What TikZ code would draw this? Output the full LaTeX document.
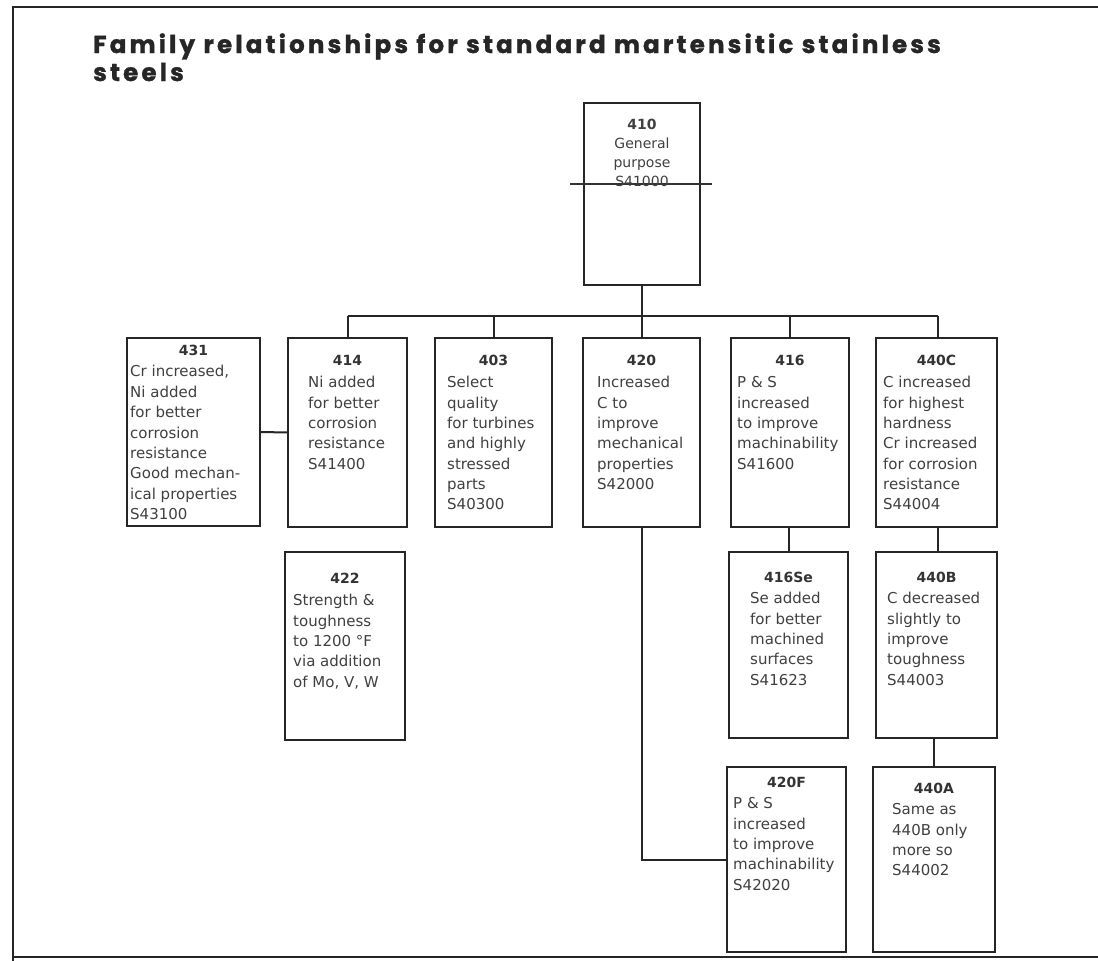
\documentclass[tikz,border=0pt]{standalone}
\usepackage{fontspec}
\newfontfamily\titlefont{Poppins}[LetterSpace=13, BoldFeatures={FakeBold=1.4}]
\newfontfamily\boxfont{DejaVu Sans}
\tikzset{
  x=1pt, y=-1pt,
  frame/.style={line width=1.6pt, draw=black!85},
  box/.style={draw=black!85, line width=1.4pt, inner sep=0pt, fill=white},
  conn/.style={line width=2pt, draw=black!85},
  num/.style={font=\boxfont\bfseries\fontsize{14}{19}\selectfont, text=black!80, anchor=base, inner sep=0pt},
  body/.style={font=\boxfont\fontsize{15}{20.3}\selectfont, text=black!75, align=left, anchor=north west, inner sep=0pt},
  title/.style={font=\titlefont\bfseries\fontsize{24.5}{28}\selectfont, text=black!85, align=left, anchor=base west, inner sep=0pt}
}
\begin{document}
\begin{tikzpicture}
\useasboundingbox[fill=white] (0,0) rectangle (1098,961);
% frame
\coordinate (fTL) at (13,7);
\coordinate (fTR) at (1098,7);
\coordinate (fBL) at (13,961);
\coordinate (fB1) at (13,957);
\coordinate (fB2) at (1098,957);
\draw[frame] (fTR) -- (fTL) -- (fBL);
\draw[frame, line width=1.2pt] (fB1) -- (fB2);
% title (base anchor = baseline of last line)
\node[title] (ttl) at (93,81) {Family relationships for standard martensitic stainless\\steels};

% boxes
\node[box, minimum width=116, minimum height=182] (n410) at (642,194) {};
\node[box, minimum width=133, minimum height=188] (n431) at (193.5,432) {};
\node[box, minimum width=119, minimum height=189] (n414) at (347.5,432.5) {};
\node[box, minimum width=117, minimum height=189] (n403) at (493.5,432.5) {};
\node[box, minimum width=117, minimum height=189] (n420) at (641.5,432.5) {};
\node[box, minimum width=118, minimum height=189] (n416) at (790,432.5) {};
\node[box, minimum width=121, minimum height=189] (n440C) at (936.5,432.5) {};
\node[box, minimum width=120, minimum height=188] (n422) at (345,646) {};
\node[box, minimum width=119, minimum height=186] (n416Se) at (788.5,645) {};
\node[box, minimum width=121, minimum height=186] (n440B) at (936.5,645) {};
\node[box, minimum width=119, minimum height=185] (n420F) at (786.5,859.5) {};
\node[box, minimum width=122, minimum height=185] (n440A) at (934,859.5) {};

% connectors
\coordinate (busL) at (347.5,316);
\coordinate (busR) at (938,316);
\draw[conn] (n410.south) -- (n410.south |- busL);
\draw[conn] (busL) -- (busR);
\draw[conn] (n414.north) -- (n414.north |- busL);
\draw[conn] (n403.north) -- (n403.north |- busL);
\draw[conn] (n420.north) -- (n420.north |- busL);
\draw[conn] (n416.north) -- (n416.north |- busL);
\draw[conn] (n440C.north -| busR) -- (busR);
\draw[conn] (n431.east) -- (n414.west);
\draw[conn] (n416.south -| n416Se.north) -- (n416Se.north);
\draw[conn] (n440C.south -| busR) -- (n440B.north -| busR);
\draw[conn] (n440B.south -| n440A.north) -- (n440A.north);
\draw[conn] (n420.south) |- (n420F.west);

% strike line in 410
\coordinate (sL) at (570,184);
\coordinate (sR) at (712,184);
\draw[line width=1.2pt, black!80] (sL) -- (sR);

% texts
\node[font=\boxfont\fontsize{14}{19}\selectfont, text=black!75, align=center, anchor=north, inner sep=0pt] (t410) at (642,119)
  {\textbf{410}\\General\\purpose\\S41000};

\node[num] (h431) at (193.5,355.5) {431};
\node[body, font=\boxfont\fontsize{15}{20.4}\selectfont] (t431) at (130,362.5) {\strut Cr increased,\\Ni added\\for better\\corrosion\\resistance\\Good mechan-\\ical properties\\S43100};

\node[num] (h414) at (347.5,365.5) {414};
\node[body] (t414) at (308,373.5) {\strut Ni added\\for better\\corrosion\\resistance\\S41400};

\node[num] (h403) at (493.5,365.5) {403};
\node[body] (t403) at (447,373.5) {\strut Select\\quality\\for turbines\\and highly\\stressed\\parts\\S40300};

\node[num] (h420) at (641.5,365.5) {420};
\node[body] (t420) at (597,373.5) {\strut Increased\\C to\\improve\\mechanical\\properties\\S42000};

\node[num] (h416) at (790,365.5) {416};
\node[body] (t416) at (737,373.5) {\strut P \& S\\increased\\to improve\\machinability\\S41600};

\node[num] (h440C) at (936.5,365.5) {440C};
\node[body] (t440C) at (883,373.5) {\strut C increased\\for highest\\hardness\\Cr increased\\for corrosion\\resistance\\S44004};

\node[num] (h422) at (345,583.5) {422};
\node[body] (t422) at (293,591.5) {\strut Strength \&\\toughness\\to 1200 °F\\via addition\\of Mo, V, W};

\node[num] (h416Se) at (788.5,582.5) {416Se};
\node[body] (t416Se) at (750,589.5) {\strut Se added\\for better\\machined\\surfaces\\S41623};

\node[num] (h440B) at (936.5,582.5) {440B};
\node[body] (t440B) at (887,589.5) {\strut C decreased\\slightly to\\improve\\toughness\\S44003};

\node[num] (h420F) at (786.5,787.5) {420F};
\node[body] (t420F) at (733,794.5) {\strut P \& S\\increased\\to improve\\machinability\\S42020};

\node[num] (h440A) at (934,793.5) {440A};
\node[body] (t440A) at (892,800.5) {\strut Same as\\440B only\\more so\\S44002};
\end{tikzpicture}
\end{document}
